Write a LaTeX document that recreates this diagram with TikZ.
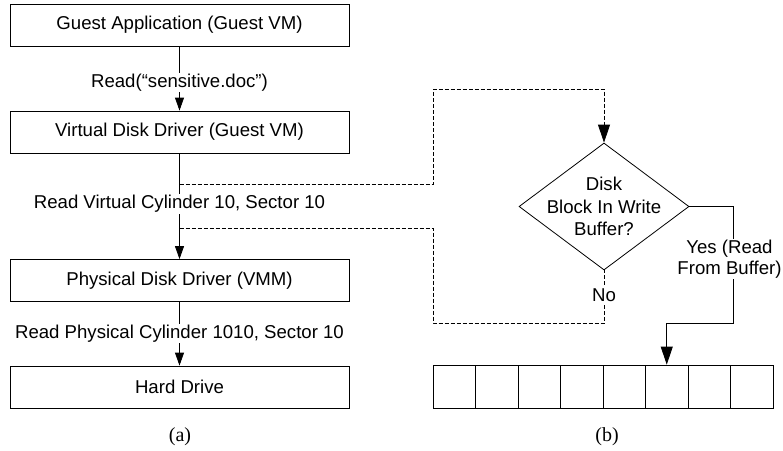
\documentclass[tikz,border=0pt]{standalone}
\usepackage{fontspec}
\setmainfont{Liberation Sans}
\newfontfamily\capfont{Liberation Serif}
\usetikzlibrary{arrows.meta,shapes.geometric}
\begin{document}
\begin{tikzpicture}[x=1pt,y=-1pt,
  font=\fontsize{18.6}{22}\selectfont,
  line width=0.8pt,
  box/.style={draw, minimum width=339pt, minimum height=42pt, inner sep=0pt},
  cell/.style={draw, minimum width=42.5pt, minimum height=43pt, inner sep=0pt},
  lbl/.style={fill=white, inner sep=1pt, align=center},
  small/.style={-{Triangle[length=13pt,width=9pt]}},
  big/.style={-{Triangle[length=18pt,width=12pt]}},
  dsh/.style={dash pattern=on 4pt off 2pt},
  figcap/.style={font=\capfont\fontsize{20}{24}\selectfont}]
\useasboundingbox (0,0) rectangle (783,450);
% (a) column
\node[box] (ga) at (179.5,25) {Guest Application (Guest VM)};
\node[box] (vdd) at (179.5,132) {Virtual Disk Driver (Guest VM)};
\node[box] (pdd) at (179.5,280.5) {Physical Disk Driver (VMM)};
\node[box] (hd) at (179.5,387) {Hard Drive};
\draw[small] (ga) -- node[lbl, pos=0.56] (l1) {Read(“sensitive.doc”)} (vdd);
\coordinate (t1) at (vdd.south |- 0,184);
\coordinate (t2) at (vdd.south |- 0,228);
\draw[small] (vdd) -- node[lbl, pos=0.48] (l2) {Read Virtual Cylinder 10, Sector 10} (pdd);
\draw[small] (pdd) -- node[lbl, pos=0.50] (l3) {Read Physical Cylinder 1010, Sector 10} (hd);
\node[figcap] (ca) at (180,437) {(a)};
% (b)
\node[diamond, draw, minimum width=170pt, minimum height=127pt, inner sep=0pt] (dia) at (604,206.5) {};
\node[align=center, font=\fontsize{18.6}{22.5}\selectfont] (dtext) at (dia.center) {Disk\\Block In Write\\Buffer?};
\foreach \i in {1,...,8} {
  \node[cell] (c\i) at ({433+42.5*(\i-0.5)},386.5) {};
}
\draw[dsh, big] (t1) -- (433,184) -- (433,89) -- (dia.north |- 0,89) -- (dia.north);
\draw[dsh] (t2) -- (433,228) -- (433,323) -- (dia.south |- 0,323) -- node[lbl, pos=0.52, inner sep=2pt] (no) {No} (dia.south);
\draw[big] (dia.east) -- (733,206.5) -- node[lbl, pos=0.45, xshift=-3.5pt, inner sep=0.5pt, font=\fontsize{18.6}{21}\selectfont] (yes) {Yes (Read\\From Buffer)} (733,323) -- (c6.north |- 0,323) -- (c6.north);
\node[figcap] (cb) at (607,437) {(b)};
\end{tikzpicture}
\end{document}
